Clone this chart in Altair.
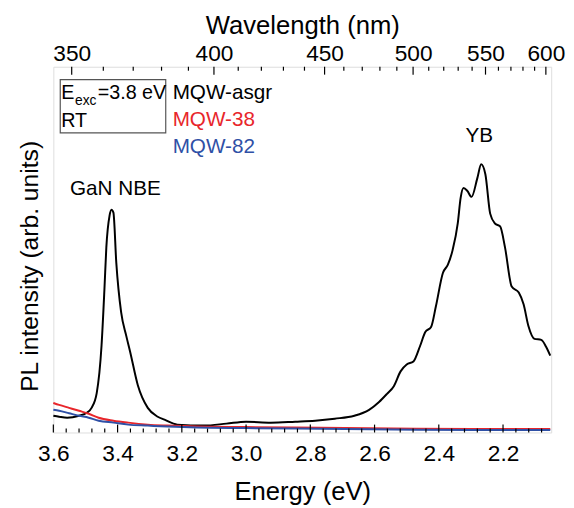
import altair as alt
import pandas as pd

# ---- data (energy in eV, intensity in arb. units) ----
E_asgr = [3.600, 3.582, 3.557, 3.520, 3.496, 3.481, 3.465, 3.450, 3.441, 3.435, 3.425, 3.419,
          3.413, 3.404, 3.389, 3.373, 3.361, 3.337, 3.306, 3.275, 3.254, 3.214, 3.131, 3.061,
          3.000, 2.923, 2.847, 2.785, 2.724, 2.663, 2.617, 2.586, 2.562, 2.540, 2.519, 2.500,
          2.479, 2.458, 2.442, 2.424, 2.409, 2.387, 2.372, 2.357, 2.341, 2.332, 2.323, 2.311,
          2.298, 2.280, 2.268, 2.255, 2.240, 2.225, 2.209, 2.194, 2.173, 2.151, 2.136, 2.121,
          2.102, 2.081, 2.066, 2.053]
I_asgr = [17, 16, 15, 17, 20, 25, 40, 88, 145, 188, 220, 226,
          223, 172, 122, 98, 82, 48, 25, 16, 13, 8, 7, 9,
          11, 10, 11, 12, 14, 17, 23, 31, 39, 47, 62, 69,
          72, 88, 102, 107, 128, 162, 170, 185, 212, 238, 248, 245,
          239, 258, 272, 262, 222, 212, 209, 188, 148, 142, 130, 108,
          95, 94, 87, 78]

E_38 = [3.600, 3.582, 3.551, 3.520, 3.490, 3.459, 3.413, 3.367, 3.306, 3.245, 3.153, 3.000,
        2.847, 2.693, 2.540, 2.295, 2.053]
I_38 = [30, 28, 25, 22, 19, 15, 12, 10, 8, 7, 6, 5.5, 5, 4.5, 4, 3.5, 3.5]

E_82 = [3.600, 3.582, 3.551, 3.520, 3.490, 3.459, 3.413, 3.367, 3.306, 3.245, 3.153, 3.000,
        2.847, 2.693, 2.540, 2.295, 2.053]
I_82 = [23, 22, 19.5, 17, 15, 12, 10, 8, 7, 6, 5, 4.5, 4, 3.5, 3, 2.5, 2.5]

energy_major = [3.6, 3.4, 3.2, 3.0, 2.8, 2.6, 2.4, 2.2]
energy_minor = [round(3.6 - 0.04 * i, 2) for i in range(39) if i % 5]
wl_major = [350, 400, 450, 500, 550, 600]
wl_minor = [w for w in range(350, 601, 10) if w % 50]

series_names = ["MQW-asgr", "MQW-38", "MQW-82"]
series_colors = ["#000000", "#e8262b", "#2f50a6"]

peak_labels = ["GaN NBE", "YB"]
peak_E = [3.407, 2.274]
peak_I = [241, 295]

# ---- layout constants ----
W, H = 505, 371
FONT = "Liberation Sans"
xs = alt.Scale(domain=[3.6, 2.05], nice=False, zero=False)
ys = alt.Scale(domain=[0, H], nice=False, zero=False)

bottom_axis = alt.Axis(values=energy_major, format=".1f", ticks=False, domain=False, grid=False,
                       labelFontSize=23, labelPadding=28, labelBaseline="alphabetic",
                       labelFlush=False, labelOverlap=False, labelColor="black",
                       title="Energy (eV)", titleFontSize=26, titleFontWeight="normal",
                       titleBaseline="alphabetic", titleY=68, titleColor="black")
top_axis = alt.Axis(orient="top", values=[1240 / w for w in wl_major],
                    labelExpr="format(1240/datum.value, '.0f')",
                    ticks=False, domain=False, grid=False,
                    labelFontSize=23, labelPadding=6, labelBaseline="alphabetic",
                    labelFlush=False, labelOverlap=False, labelColor="black",
                    title="Wavelength (nm)", titleFontSize=26, titleFontWeight="normal",
                    titleBaseline="alphabetic", titleY=-34, titleColor="black")
y_axis = alt.Axis(labels=False, ticks=False, domain=False, grid=False,
                  title="PL intensity (arb. units)", titleFontSize=25, titleFontWeight="normal",
                  titleBaseline="alphabetic", titleAngle=270, titleX=-16, titleY=202,
                  titleColor="black")

def line_layer(E, I, color, axis_x):
    df = pd.DataFrame({"E": E, "I": I})
    return alt.Chart(df).mark_line(color=color, strokeWidth=2, interpolate="monotone").encode(
        x=alt.X("E:Q", scale=xs, axis=axis_x),
        y=alt.Y("I:Q", scale=ys, axis=y_axis),
    )

l_asgr = line_layer(E_asgr, I_asgr, series_colors[0], bottom_axis)
l_38 = line_layer(E_38, I_38, series_colors[1], None)
l_82 = line_layer(E_82, I_82, series_colors[2], None)

# inward ticks
def tick_layer(values, y0, y1, axis=None):
    df = pd.DataFrame({"E": values})
    return alt.Chart(df).mark_rule(color="black", strokeWidth=1.2).encode(
        x=alt.X("E:Q", scale=xs, axis=axis), y=alt.value(y0), y2=alt.value(y1))

def wl_tick_layer(values, y0, y1, axis=None):
    df = pd.DataFrame({"wl": values})
    return alt.Chart(df).transform_calculate(E="1240/datum.wl").mark_rule(
        color="black", strokeWidth=1.2).encode(
        x=alt.X("E:Q", scale=xs, axis=axis), y=alt.value(y0), y2=alt.value(y1))

t_bmaj = tick_layer(energy_major, H, H - 8)
t_bmin = tick_layer(energy_minor, H, H - 4)
t_tmaj = wl_tick_layer(wl_major, 0, 8, top_axis)
t_tmin = wl_tick_layer(wl_minor, 0, 4)

# peak annotations
peaks = pd.DataFrame({"E": peak_E, "I": peak_I, "t": peak_labels})
t_peaks = alt.Chart(peaks).mark_text(font=FONT, fontSize=21, align="center",
                                     baseline="alphabetic", color="black").encode(
    x=alt.X("E:Q", scale=xs, axis=None), y=alt.Y("I:Q", scale=ys, axis=y_axis), text="t:N")

# legend box
one = pd.DataFrame({"a": [0]})
box = alt.Chart(one).mark_rect(fill=None, stroke="#555555", strokeWidth=1.2).encode(
    x=alt.value(7), x2=alt.value(114), y=alt.value(13), y2=alt.value(67))

def txt(s, x, y, size=20, color="black"):
    return alt.Chart(one).mark_text(font=FONT, fontSize=size, align="left",
                                    baseline="alphabetic", color=color).encode(
        x=alt.value(x), y=alt.value(y), text=alt.value(s))

legend_layers = [
    txt("E", 8, 33), txt("exc", 22, 39, 14), txt("=3.8 eV", 45, 33), txt("RT", 8, 61),
    txt(series_names[0], 121, 33, 21, series_colors[0]),
    txt(series_names[1], 121, 60, 21, series_colors[1]),
    txt(series_names[2], 121, 87, 21, series_colors[2]),
]

chart = alt.layer(
    l_asgr, l_38, l_82, t_bmaj, t_bmin, t_tmaj, t_tmin, t_peaks, box, *legend_layers
).resolve_axis(x="independent").properties(
    width=W, height=H,
    autosize=alt.AutoSizeParams(type="none"),
    padding={"left": 46, "top": 56, "right": 15, "bottom": 73},
).configure_view(stroke="black", strokeWidth=1.5).configure(font=FONT)

chart.save("out.html", embed_options={"renderer": "svg", "actions": False})
